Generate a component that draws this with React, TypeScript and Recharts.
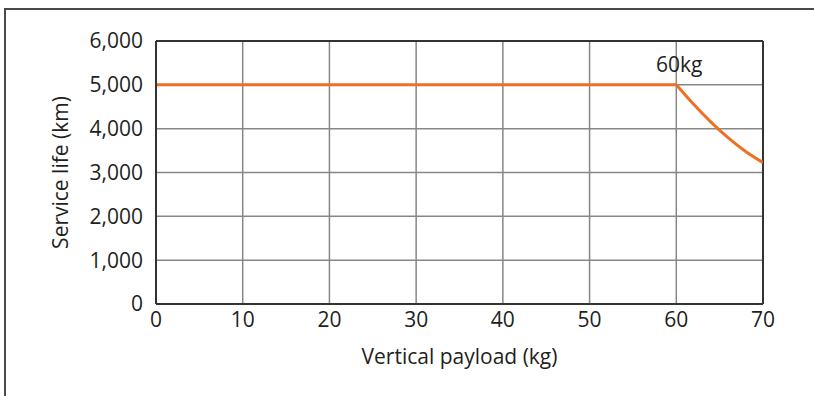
import { LineChart, Line, XAxis, YAxis, CartesianGrid, ReferenceLine, ReferenceDot, Label } from 'recharts'

const flatLoads = [0, 60]
const flatLife = [5000, 5000]
const curveLoads = [60, 62, 64, 66, 68, 70]
const curveLife = [5000, 4555, 4150, 3790, 3480, 3226]
const xTicks = [0, 10, 20, 30, 40, 50, 60, 70]
const yTicks = [0, 1000, 2000, 3000, 4000, 5000, 6000]

const flatData = flatLoads.map((load, i) => ({ load, life: flatLife[i] }))
const curveData = curveLoads.map((load, i) => ({ load, life: curveLife[i] }))

const font = { fontFamily: '"Open Sans", sans-serif', fontSize: 21, fill: '#231f20' }
const orange = '#ef7023'

// rotated y-axis title, centred on the left edge of the axis box
const YTitle = ({ viewBox }: any) => {
  const x = viewBox.x
  const y = viewBox.y + viewBox.height / 2
  return (
    <text x={x} y={y} transform={`rotate(-90, ${x}, ${y})`} textAnchor="middle" dominantBaseline="central" style={font}>
      Service life (km)
    </text>
  )
}

export default function App() {
  return (
    <div style={{ position: 'absolute', left: 0, top: 0, width: 814, height: 396, background: '#fff' }}>
      <div style={{ position: 'absolute', left: 4, top: 8, right: 0, bottom: 0, borderLeft: '2px solid #4a4a4a', borderTop: '2px solid #4a4a4a' }} />
      <div style={{ position: 'absolute', left: 0, top: 0 }}>
        <LineChart width={814} height={396} margin={{ top: 41, right: 51, left: 60, bottom: 27 }}>
          <CartesianGrid stroke="#878787" strokeWidth={1.5} />
          <XAxis
            type="number"
            dataKey="load"
            domain={[0, 70]}
            ticks={xTicks}
            allowDataOverflow
            tickLine={false}
            tickMargin={2}
            height={65}
            axisLine={{ stroke: '#333', strokeWidth: 2 }}
            tick={font}
          >
            <Label value="Vertical payload (kg)" position="insideBottom" offset={5} style={font} />
          </XAxis>
          <YAxis
            type="number"
            domain={[0, 6000]}
            ticks={yTicks}
            width={96}
            tickLine={false}
            tickMargin={7}
            axisLine={{ stroke: '#333', strokeWidth: 2 }}
            tick={font}
            tickFormatter={(v: number) => v.toLocaleString('en-US')}
          >
            <Label content={<YTitle />} />
          </YAxis>
          <ReferenceLine y={6000} stroke="#333" strokeWidth={2} />
          <ReferenceLine x={70} stroke="#333" strokeWidth={2} />
          <Line data={flatData} dataKey="life" type="linear" stroke={orange} strokeWidth={3} dot={false} isAnimationActive={false} />
          <Line data={curveData} dataKey="life" type="monotone" stroke={orange} strokeWidth={3} dot={false} isAnimationActive={false} />
          <ReferenceDot x={60} y={5000} r={0} stroke="none" label={{ value: '60kg', position: 'top', offset: 13, dx: 3, style: font }} />
        </LineChart>
      </div>
    </div>
  )
}
